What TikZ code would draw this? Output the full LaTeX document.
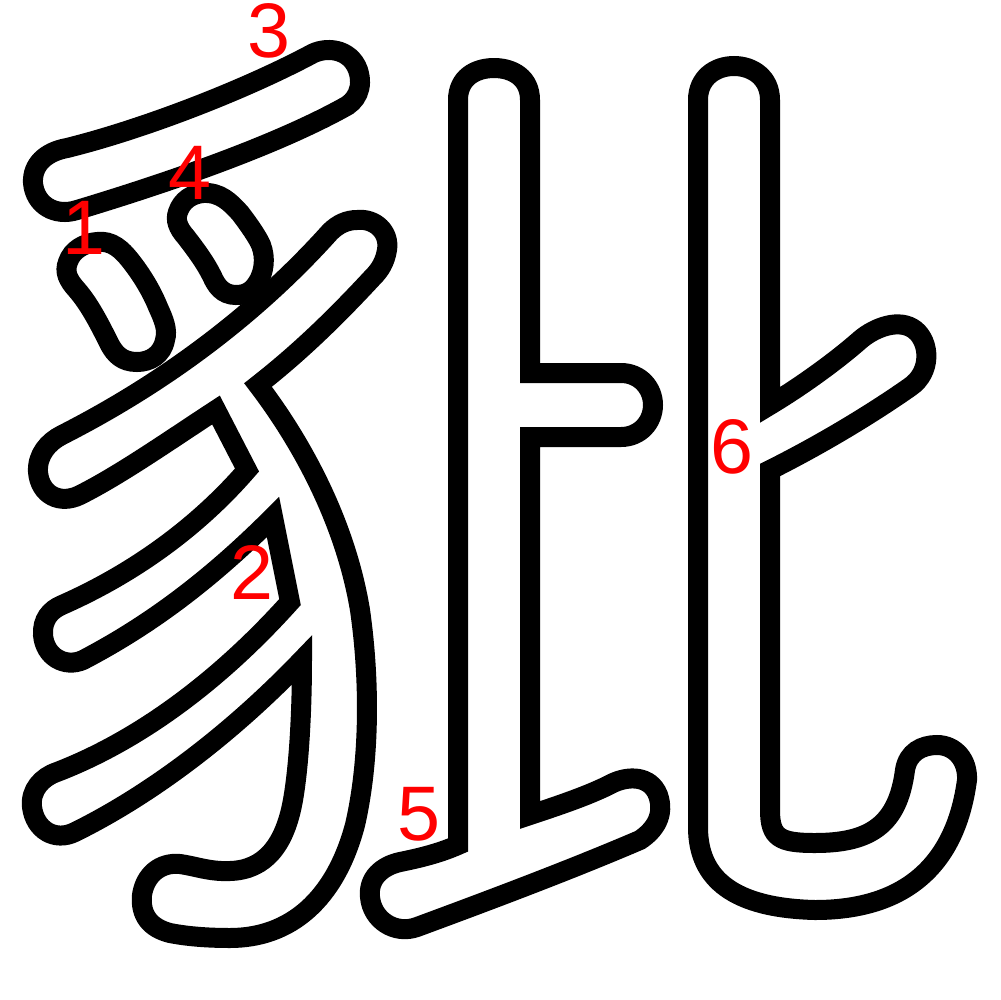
\documentclass[tikz,border=0pt]{standalone}
\usepackage{fontspec}
\setmainfont{Liberation Sans}
\begin{document}
\begin{tikzpicture}[x=0.1mm,y=-0.1mm,
  outl/.style={draw=black,line width=2mm,line join=miter},
  num/.style={text=red,inner sep=0pt,font=\fontsize{22pt}{22pt}\selectfont}]
\fill[white] (0,0) rectangle (1000,1000);
\useasboundingbox (0,0) rectangle (1000,1000);
% stroke 3: top bar
\draw[outl] (67,148) .. controls (140,130) and (240,92) .. (310,55)
  .. controls (325,46) and (350,48) .. (358,70)
  .. controls (364,88) and (356,102) .. (343,108)
  .. controls (270,148) and (160,185) .. (77,210)
  .. controls (55,217) and (35,205) .. (33,183)
  .. controls (32,165) and (45,152) .. (67,148) -- cycle;
% stroke 1: left dot
\draw[outl] (97,242) .. controls (112,240) and (122,250) .. (130,260)
  .. controls (142,275) and (152,292) .. (158,307)
  .. controls (164,320) and (168,330) .. (165,340)
  .. controls (162,355) and (150,362) .. (137,362)
  .. controls (122,362) and (115,354) .. (110,345)
  .. controls (100,325) and (90,305) .. (77,290)
  .. controls (68,280) and (64,272) .. (68,262)
  .. controls (72,250) and (84,243) .. (97,242) -- cycle;
% stroke 4: second dot
\draw[outl] (203,193) .. controls (220,192) and (230,202) .. (240,213)
  .. controls (250,226) and (258,238) .. (261,245)
  .. controls (266,258) and (264,272) .. (258,282)
  .. controls (252,292) and (245,295) .. (236,295)
  .. controls (222,295) and (216,285) .. (212,276)
  .. controls (205,262) and (196,250) .. (186,237)
  .. controls (178,228) and (175,220) .. (178,212)
  .. controls (182,200) and (192,194) .. (203,193) -- cycle;
% stroke 2: body of the left component
\draw[outl] (357,220) .. controls (375,218) and (390,232) .. (387,250)
  .. controls (385,262) and (380,270) .. (373,277)
  .. controls (335,318) and (300,352) .. (258,385)
  .. controls (300,440) and (345,520) .. (360,610)
  .. controls (370,680) and (370,760) .. (355,825)
  .. controls (335,900) and (290,938) .. (230,938)
  .. controls (205,938) and (185,936) .. (170,933)
  .. controls (150,928) and (140,915) .. (142,895)
  .. controls (145,875) and (160,862) .. (180,864)
  .. controls (195,866) and (210,872) .. (230,871)
  .. controls (265,870) and (285,845) .. (293,800)
  .. controls (300,760) and (302,700) .. (302,660)
  .. controls (230,735) and (150,795) .. (75,832)
  .. controls (55,842) and (35,830) .. (32,807)
  .. controls (30,790) and (42,777) .. (57,772)
  .. controls (140,740) and (220,680) .. (290,602)
  -- (273,517)
  .. controls (210,580) and (150,625) .. (83,660)
  .. controls (65,668) and (45,657) .. (43,635)
  .. controls (42,620) and (50,610) .. (62,605)
  .. controls (130,575) and (195,530) .. (247,470)
  -- (216,410)
  .. controls (170,440) and (120,475) .. (80,495)
  .. controls (60,505) and (40,495) .. (38,472)
  .. controls (37,455) and (48,442) .. (62,435)
  .. controls (170,380) and (260,310) .. (330,232)
  .. controls (338,224) and (347,220) .. (357,220) -- cycle;
% stroke 5
\draw[outl] (458,100) .. controls (458,78) and (475,68) .. (494,68)
  .. controls (513,68) and (530,78) .. (530,100)
  -- (530,373) -- (621,373)
  .. controls (640,373) and (653,388) .. (653,405)
  .. controls (653,422) and (640,437) .. (621,437)
  -- (530,437) -- (530,815)
  .. controls (560,805) and (590,795) .. (613,783)
  .. controls (628,776) and (650,775) .. (658,795)
  .. controls (665,815) and (655,830) .. (640,840)
  .. controls (570,870) and (490,900) .. (417,927)
  .. controls (395,935) and (372,920) .. (370,897)
  .. controls (368,878) and (382,866) .. (400,862)
  .. controls (420,858) and (440,853) .. (458,845)
  -- cycle;
% stroke 6
\draw[outl] (698,100) .. controls (698,78) and (715,66) .. (734,66)
  .. controls (753,66) and (770,78) .. (770,100)
  -- (770,405)
  .. controls (800,387) and (835,362) .. (860,340)
  .. controls (875,327) and (900,318) .. (915,330)
  .. controls (930,342) and (932,372) .. (910,387)
  .. controls (870,415) and (820,445) .. (770,470)
  -- (770,810)
  .. controls (770,838) and (780,843) .. (815,843)
  .. controls (870,843) and (898,825) .. (905,770)
  .. controls (908,752) and (922,745) .. (937,745)
  .. controls (955,745) and (968,760) .. (967,780)
  .. controls (955,870) and (900,910) .. (815,910)
  .. controls (735,908) and (698,880) .. (698,827)
  -- cycle;
% labels
\node[num] (n1) at (84,228) {1};
\node[num] (n2) at (252,572) {2};
\node[num] (n3) at (269,31) {3};
\node[num] (n4) at (190,173) {4};
\node[num] (n5) at (419,814) {5};
\node[num] (n6) at (732,447) {6};
\end{tikzpicture}
\end{document}
